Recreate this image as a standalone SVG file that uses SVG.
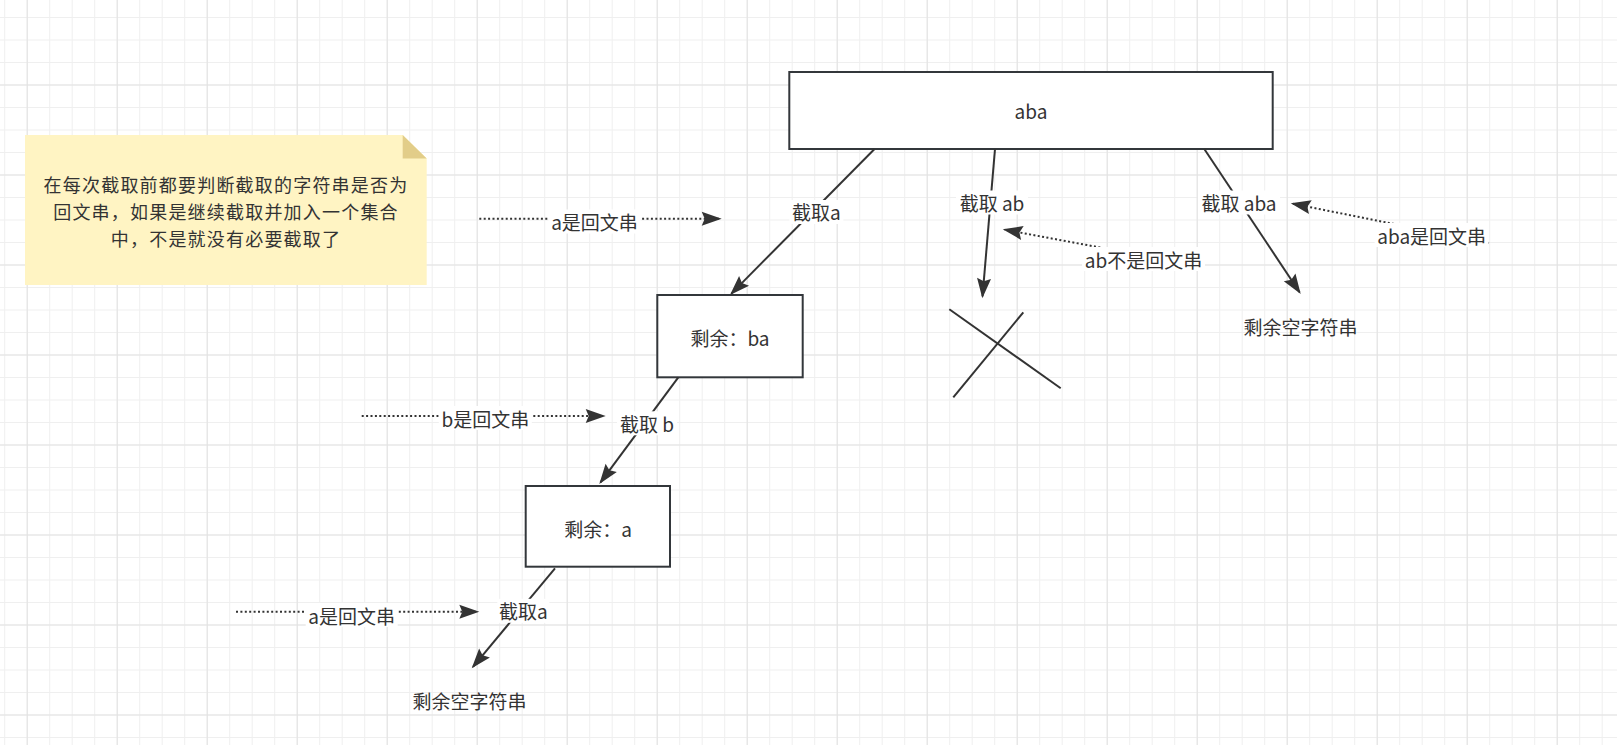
<svg xmlns="http://www.w3.org/2000/svg" width="1617" height="745" viewBox="0 0 1617 745">
  <defs>
    <pattern id="gMinor" x="4.2" y="-5.5" width="22.5" height="22.5" patternUnits="userSpaceOnUse">
      <rect x="0" y="0" width="1" height="22.5" fill="#efefef"/>
      <rect x="0" y="0" width="22.5" height="1" fill="#efefef"/>
    </pattern>
    <pattern id="gMajor" x="26.7" y="-5.5" width="90" height="90" patternUnits="userSpaceOnUse">
      <rect x="0" y="0" width="1" height="90" fill="#e2e2e2"/>
      <rect x="0" y="0" width="90" height="1" fill="#e2e2e2"/>
    </pattern>
    <marker id="arrow" markerUnits="userSpaceOnUse" markerWidth="22" markerHeight="16" refX="18" refY="7" orient="auto" overflow="visible">
      <path d="M0,0 L20,7 L0,14 L3,7 Z" fill="#333333"/>
    </marker>
    <style>
      .t { font-family: "Noto Sans CJK SC", "Liberation Sans", sans-serif; font-size: 19px; fill: #333333; text-anchor: middle; dominant-baseline: central; }
      .nt { font-size: 18px; letter-spacing: 1.2px; }
      .box { fill: #ffffff; stroke: #33373b; stroke-width: 2; }
      .edge { fill: none; stroke: #333333; stroke-width: 2; marker-end: url(#arrow); }
      .dot { fill: none; stroke: #333333; stroke-width: 2; stroke-dasharray: 2 2.4; marker-end: url(#arrow); }
      .lbg { fill: #ffffff; }
      .cross { stroke: #333333; stroke-width: 2; fill: none; }
    </style>
  </defs>

  <rect width="1617" height="745" fill="#ffffff"/>
  <rect width="1617" height="745" fill="url(#gMinor)"/>
  <rect width="1617" height="745" fill="url(#gMajor)"/>

  <g id="note">
    <polygon points="25,135 402.7,135 426.7,158.5 426.7,285 25,285" fill="#fff4c3"/>
    <polygon points="402.7,135 402.7,158.5 426.7,158.5" fill="#e2cd89"/>
    <text class="t nt" x="226" y="184.3">在每次截取前都要判断截取的字符串是否为</text>
    <text class="t nt" x="226" y="211">回文串，如果是继续截取并加入一个集合</text>
    <text class="t nt" x="226" y="237.7">中，不是就没有必要截取了</text>
  </g>

  <g id="node-aba">
    <rect class="box" x="789.3" y="72" width="483.4" height="77"/>
    <text class="t" x="1031" y="110.8">aba</text>
  </g>

  <g id="node-ba">
    <rect class="box" x="657.3" y="295" width="145.4" height="82.3"/>
    <text class="t" x="730" y="337">剩余：ba</text>
  </g>

  <g id="node-a">
    <rect class="box" x="525.7" y="486" width="144.3" height="80.7"/>
    <text class="t" x="598" y="528.3">剩余：a</text>
  </g>

  <g id="node-empty1">
    <text class="t" x="1300.5" y="326.5">剩余空字符串</text>
  </g>

  <g id="node-empty2">
    <text class="t" x="469.5" y="700">剩余空字符串</text>
  </g>

  <g id="node-cross">
    <line class="cross" x1="949.3" y1="309.3" x2="1060.7" y2="388.3"/>
    <line class="cross" x1="1023.3" y1="312.3" x2="953.3" y2="397.3"/>
  </g>

  <g id="connectors">
    <path class="edge" d="M874.3,149.3 L731.4,293.6"/>
    <path class="edge" d="M995,149 L982.5,296.3"/>
    <path class="edge" d="M1204.3,149 L1299.6,292.3"/>
    <path class="edge" d="M678.3,377.3 L600.5,482.4"/>
    <path class="edge" d="M555,568.3 L473,666.8"/>

    <path class="dot" d="M479.3,218.7 L719.7,218.7"/>
    <path class="dot" d="M1143.5,255.6 L1004.7,229.7"/>
    <path class="dot" d="M1489,243 L1292.7,203.7"/>
    <path class="dot" d="M361.7,416 L603.7,416"/>
    <path class="dot" d="M236,611.7 L477.3,611.7"/>

    <g id="edge-labels">
      <rect class="lbg" x="789.4" y="200" width="54" height="24"/>
      <text class="t" x="816.4" y="211.7">截取a</text>
      <rect class="lbg" x="956" y="190.5" width="72" height="24"/>
      <text class="t" x="992" y="202.5">截取 ab</text>
      <rect class="lbg" x="1198" y="190.5" width="82" height="24"/>
      <text class="t" x="1239" y="202.5">截取 aba</text>
      <rect class="lbg" x="548.5" y="209.5" width="92" height="24"/>
      <text class="t" x="594.5" y="221.5">a是回文串</text>
      <rect class="lbg" x="1082" y="247" width="123" height="24"/>
      <text class="t" x="1143.5" y="259">ab不是回文串</text>
      <rect class="lbg" x="1374.7" y="223" width="114" height="24"/>
      <text class="t" x="1431.7" y="235">aba是回文串</text>
      <rect class="lbg" x="617" y="411.3" width="60" height="24"/>
      <text class="t" x="647" y="423.3">截取 b</text>
      <rect class="lbg" x="438.8" y="406" width="93" height="24"/>
      <text class="t" x="485.3" y="418">b是回文串</text>
      <rect class="lbg" x="497.3" y="598.8" width="52" height="24"/>
      <text class="t" x="523.3" y="610.8">截取a</text>
      <rect class="lbg" x="305.7" y="603" width="92" height="24"/>
      <text class="t" x="351.7" y="615">a是回文串</text>
    </g>
  </g>
</svg>
